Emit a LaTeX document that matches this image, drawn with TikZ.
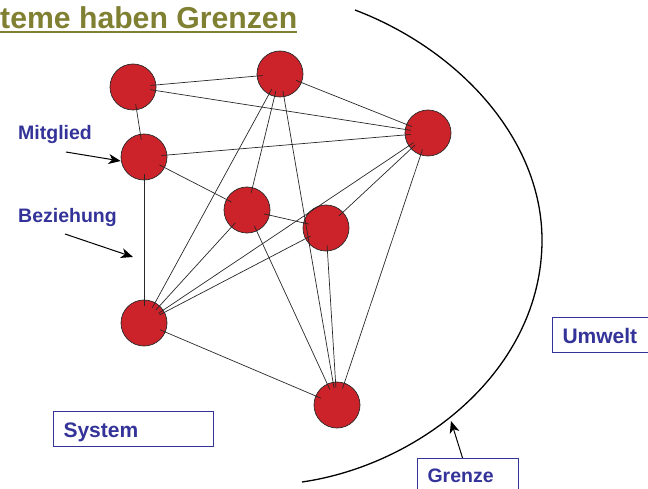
\documentclass[tikz,border=0pt]{standalone}
\usepackage{fontspec}
\setmainfont{Liberation Sans}
\usetikzlibrary{arrows.meta}
\definecolor{titleolive}{RGB}{128,128,51}
\definecolor{nodered}{RGB}{204,34,41}
\definecolor{lblue}{RGB}{51,51,153}
\definecolor{edgegray}{RGB}{40,40,40}
\begin{document}
\begin{tikzpicture}[x=1pt,y=-1pt,
  member/.style={circle,fill=nodered,draw=edgegray,line width=0.7pt,minimum size=46pt,inner sep=0pt},
  rel/.style={draw=edgegray,line width=0.7pt,shorten <=-6pt,shorten >=-6pt},
  lbl/.style={text=lblue,font=\bfseries\fontsize{19.5}{22}\selectfont,inner sep=0pt,anchor=base west},
  box/.style={draw=lblue,line width=1.1pt,text=lblue,font=\bfseries\fontsize{21}{24}\selectfont,align=left,inner xsep=10pt,inner ysep=8pt,anchor=north west,text height=18pt,text depth=1pt},
  pointer/.style={draw=black,line width=1pt,-{Stealth[length=12pt,width=10pt,inset=3.5pt]}}]
\useasboundingbox (0,0) rectangle (648,489);
\clip (0,0) rectangle (648,489);

% title
\node[anchor=base west,inner sep=0pt,text=titleolive,font=\bfseries\fontsize{30.2}{34}\selectfont] (title) at (0,29) {teme haben Grenzen};
\draw[titleolive,line width=2pt] ([yshift=-3.5pt]title.base west) -- ([yshift=-3.5pt]title.base east);

% members
\node[member] (A) at (133,87) {};
\node[member] (C) at (280,74) {};
\node[member] (D) at (428,133) {};
\node[member] (B) at (144,157) {};
\node[member] (E) at (247,210) {};
\node[member] (F) at (326,228) {};
\node[member] (G) at (144,323) {};
\node[member] (H) at (337,405) {};

% relations
\foreach \u/\v in {A/C,A/D,A/B,C/D,C/G,C/E,C/H,B/D,B/E,B/G,E/F,E/G,E/H,D/G,D/F,D/H,F/G,F/H,G/H}
  \draw[rel] (\u) -- (\v);

% boundary
\coordinate (arcTop) at (355,10);
\coordinate (arcRight) at (542,240);
\coordinate (arcBottom) at (302,482);
\draw[black,line width=1.3pt] (arcTop) .. controls (460,50) and (542,140) .. (arcRight)
  .. controls (542,370) and (420,465) .. (arcBottom);

% labels
\node[lbl] (mitglied) at (18,140) {Mitglied};
\node[lbl] (beziehung) at (18,223) {Beziehung};
\coordinate (m0) at (66,152);
\coordinate (b0) at (65,234);
\coordinate (b1) at (133,257);
\draw[pointer] (m0) -- ([yshift=-4pt]B.west);
\draw[pointer] (b0) -- (b1);

% boxes
\node[box,text width=140pt] (system) at (53,411) {System};
\node[box,text width=90pt] (umwelt) at (552,317) {Umwelt};
\node[box,text width=81pt,font=\bfseries\fontsize{19.5}{22}\selectfont,text height=16pt] (grenze) at (417,458) {Grenze};
\coordinate (gtip) at (451,421);
\draw[pointer] ([xshift=-5.5pt]grenze.north) -- (gtip);
\end{tikzpicture}
\end{document}
